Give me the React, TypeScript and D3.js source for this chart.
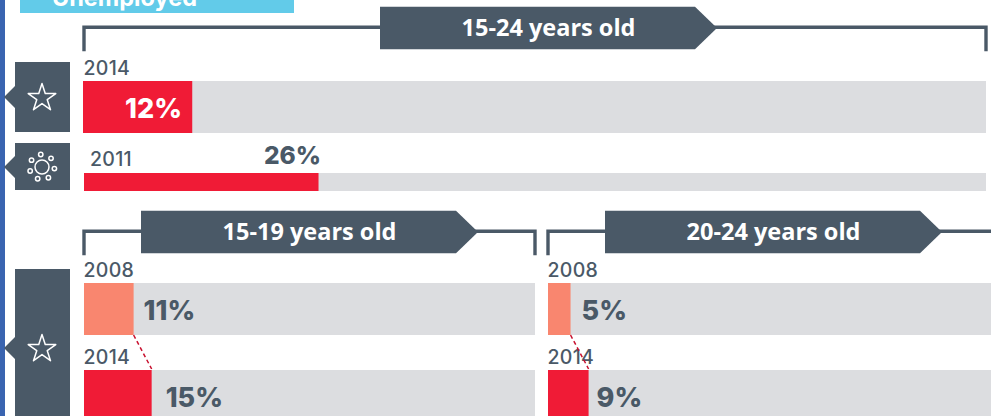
import React from "react";
import * as d3 from "d3";

const W = 991, H = 416;
const DARK = "#4a5967", GRAY = "#dcdde0", RED = "#f01b36", SALMON = "#f9866f";
const NUM = "Inter, 'Noto Sans', sans-serif";
const LAB = "'Open Sans', sans-serif";

// 15-24 years old
const topYears = ["2014", "2011"];
const topValues = [12, 26];
// 15-19 years old
const youngYears = ["2008", "2014"];
const youngValues = [11, 15];
// 20-24 years old
const olderYears = ["2008", "2014"];
const olderValues = [5, 9];
const headings = ["15-24 years old", "15-19 years old", "20-24 years old"];
const cropTitle = "Unemployed";

const xTop = d3.scaleLinear().domain([0, 100]).range([84, 986]);
const xYoung = d3.scaleLinear().domain([0, 100]).range([84, 535]);
const xOlder = d3.scaleLinear().domain([0, 100]).range([548, 999]);

function Star({ cx, cy }: { cx: number; cy: number }) {
  const d = d3.symbol(d3.symbolStar, 235)() as string;
  return <path d={d} transform={`translate(${cx},${cy + 1})`} fill="none" stroke="#fff" strokeWidth={1.5} strokeLinejoin="round" />;
}

function Sun({ cx, cy }: { cx: number; cy: number }) {
  const angs = [0, 52, 103, 155, 206, 257, 309];
  return (
    <g fill="none" stroke="#fff" strokeWidth={1.5}>
      <circle cx={cx} cy={cy} r={7} />
      {angs.map((a) => (
        <circle key={a} cx={cx + 12.5 * Math.sin((a * Math.PI) / 180 - 0.1)} cy={cy - 12.5 * Math.cos((a * Math.PI) / 180 - 0.1)} r={2.2} />
      ))}
    </g>
  );
}

function Tab({ y0, y1, tip }: { y0: number; y1: number; tip: number }) {
  const p = d3.path();
  p.moveTo(15, y0);
  p.lineTo(70, y0);
  p.lineTo(70, y1);
  p.lineTo(15, y1);
  p.lineTo(15, Math.min(y1, tip + 11));
  p.lineTo(4, tip);
  p.lineTo(15, Math.max(y0, tip - 11));
  p.closePath();
  return <path d={p.toString()} fill={DARK} />;
}

function Heading({ x0, x1, cy, label, left, right }: { x0: number; x1: number; cy: number; label: string; left: number; right: number }) {
  const ly = cy - 0.8;
  const p = d3.path();
  p.moveTo(left, ly + 24);
  p.lineTo(left, ly);
  p.lineTo(right, ly);
  if (right < W) p.lineTo(right, ly + 24);
  const r = d3.path();
  r.moveTo(x0, cy - 21.3);
  r.lineTo(x1 - 22, cy - 21.3);
  r.lineTo(x1, cy);
  r.lineTo(x1 - 22, cy + 21.3);
  r.lineTo(x0, cy + 21.3);
  r.closePath();
  return (
    <g>
      <path d={p.toString()} fill="none" stroke={DARK} strokeWidth={3.4} />
      <path d={r.toString()} fill={DARK} />
      <text x={(x0 + x1 - 22) / 2 + 11} y={cy + 8} textAnchor="middle" fill="#fff" fontFamily={LAB} fontWeight={700} fontSize={23.5}>{label}</text>
    </g>
  );
}

function Year({ x, y, t }: { x: number; y: number; t: string }) {
  return <text x={x} y={y} fill={DARK} fontFamily={NUM} fontWeight={500} fontSize={19.5} letterSpacing={0.3}>{t}</text>;
}

function Val({ x, y, v, fill = DARK, size = 27 }: { x: number; y: number; v: number; fill?: string; size?: number }) {
  return <text x={x} y={y} fill={fill} fontFamily={NUM} fontWeight={800} fontSize={size}>{v}%</text>;
}

function Pair({ x, years, values, off }: { x: d3.ScaleLinear<number, number>; years: string[]; values: number[]; off: number[] }) {
  const x0 = x(0);
  return (
    <g>
      <rect x={x0} y={283} width={Math.min(x(100), W) - x0} height={52} fill={GRAY} />
      <rect x={x0} y={370} width={Math.min(x(100), W) - x0} height={46} fill={GRAY} />
      <rect x={x0} y={283} width={x(values[0]) - x0} height={52} fill={SALMON} />
      <rect x={x0} y={370} width={x(values[1]) - x0} height={46} fill={RED} />
      <Year x={x0 - 0.5} y={277} t={years[0]} />
      <Year x={x0 - 0.5} y={364} t={years[1]} />
      <line x1={x(values[0])} y1={335} x2={x(values[1])} y2={369} stroke="#c8102e" strokeWidth={1.5} strokeDasharray="4 3" />
      <Val x={x(values[0]) + off[0]} y={320} v={values[0]} />
      <Val x={x(values[1]) + off[1]} y={407} v={values[1]} />
    </g>
  );
}

export default function App() {
  return (
    <svg width={W} height={H} viewBox={`0 0 ${W} ${H}`} style={{ position: "absolute", left: 0, top: 0, background: "#fff" }}>
      <rect x={0} y={0} width={5} height={H} fill="#3a64b0" />
      <rect x={20} y={0} width={274} height={13} fill="#62cbe9" />
      <text x={52} y={6} fill="#fff" fontFamily={NUM} fontWeight={700} fontSize={23.5}>{cropTitle}</text>

      <Heading x0={380} x1={717} cy={28} label={headings[0]} left={84} right={986} />
      <Heading x0={141} x1={478} cy={232} label={headings[1]} left={84} right={535} />
      <Heading x0={605} x1={942} cy={232} label={headings[2]} left={548} right={W + 5} />

      <Tab y0={62} y1={132} tip={97} />
      <Star cx={42} cy={97} />
      <Tab y0={143} y1={190} tip={167} />
      <Sun cx={42} cy={167} />
      <Tab y0={269} y1={H} tip={348} />
      <Star cx={42} cy={348} />

      <rect x={xTop(0) - 1} y={81} width={xTop(100) - xTop(0) + 1} height={52} fill={GRAY} />
      <rect x={xTop(0) - 1} y={81} width={xTop(topValues[0]) - xTop(0) + 1} height={52} fill={RED} />
      <Year x={83.5} y={75} t={topYears[0]} />
      <Val x={125} y={118} v={topValues[0]} fill="#fff" />
      <rect x={xTop(0)} y={173} width={xTop(100) - xTop(0)} height={18} fill={GRAY} />
      <rect x={xTop(0)} y={173} width={xTop(topValues[1]) - xTop(0)} height={18} fill={RED} />
      <Year x={90} y={166} t={topYears[1]} />
      <Val x={264} y={164} v={topValues[1]} size={24.5} />

      <Pair x={xYoung} years={youngYears} values={youngValues} off={[10, 14]} />
      <Pair x={xOlder} years={olderYears} values={olderValues} off={[11, 8]} />
    </svg>
  );
}
